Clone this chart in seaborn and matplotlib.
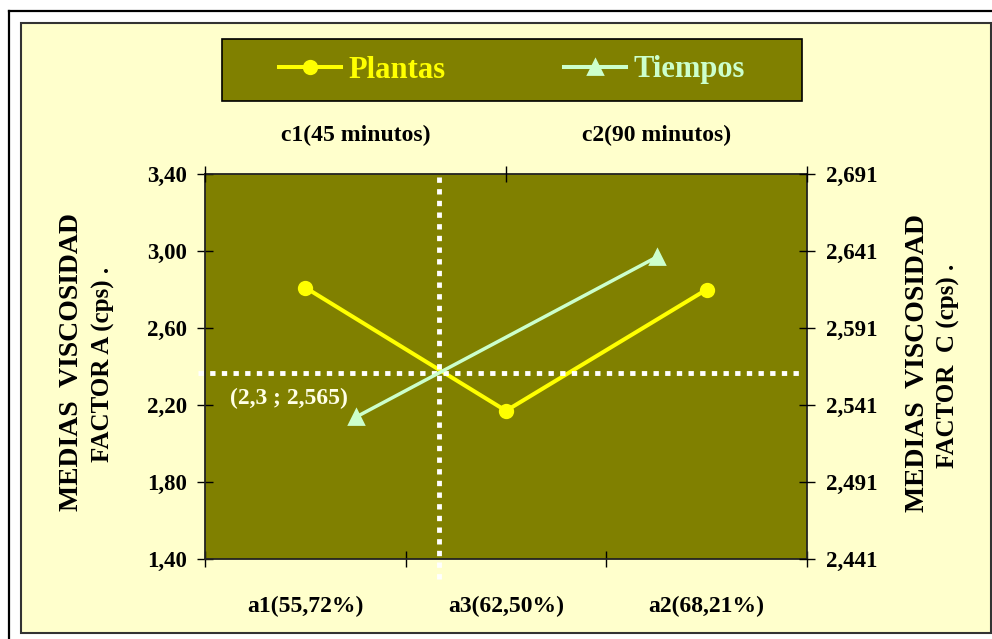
import matplotlib
matplotlib.use("Agg")
import matplotlib.pyplot as plt
import seaborn as sns
from matplotlib.lines import Line2D
from matplotlib.patches import Rectangle
from matplotlib.ticker import FuncFormatter, FixedLocator

# ---------------- data ----------------
plant_labels = ["a1(55,72%)", "a3(62,50%)", "a2(68,21%)"]
plant_values = [2.81, 2.17, 2.80]          # left axis (Factor A)
time_labels = ["c1(45 minutos)", "c2(90 minutos)"]
time_values = [2.533, 2.637]               # right axis (Factor C)
left_ticks = [1.40, 1.80, 2.20, 2.60, 3.00, 3.40]
right_ticks = [2.441, 2.491, 2.541, 2.591, 2.641, 2.691]
series_names = ["Plantas", "Tiempos"]
cross_x = 0.666    # vertical reference line (category units of factor A axis)
cross_y = 2.366    # horizontal reference line (left axis units)
cross_label = "(2,3 ; 2,565)"

# ---------------- style ----------------
FONT = "Liberation Serif"
plt.rcParams["font.family"] = [FONT, "DejaVu Serif"]
plt.rcParams["font.weight"] = "bold"
YELLOW = "#FFFF00"
GREEN = "#CCFFCC"
OLIVE = "#808000"
CREAM = "#FFFFCC"

W, H = 992, 639
fig = plt.figure(figsize=(W / 100, H / 100), dpi=100, facecolor="white")

def fx(px):
    return px / W

def fy(py):
    return 1 - py / H

# outer frame lines
fig.add_artist(Line2D([fx(9), fx(9)], [fy(11), 0], color="black", lw=1.6))
fig.add_artist(Line2D([fx(9), 1], [fy(11), fy(11)], color="black", lw=1.6))
# inner chart area
fig.add_artist(Rectangle((fx(20.7), fy(633)), fx(991) - fx(20.7), fy(23) - fy(633),
                         facecolor=CREAM, edgecolor="#333333", lw=1.5, zorder=0))

# ---------------- axes ----------------
rect = [fx(205), fy(559), fx(807) - fx(205), fy(174) - fy(559)]
ax = fig.add_axes(rect)
ax.set_facecolor(OLIVE)
ax2 = fig.add_axes(rect, frameon=False)
ax2.patch.set_visible(False)

sns.pointplot(x=plant_labels, y=plant_values, ax=ax, color=YELLOW, markers="o",
              errorbar=None, linewidth=2.9, markersize=9, markeredgewidth=2)
sns.pointplot(x=time_labels, y=time_values, ax=ax2, color=GREEN, markers="^",
              errorbar=None, linewidth=2.5, markersize=10, markeredgewidth=2)

ax.set_ylim(left_ticks[0], left_ticks[-1])
ax2.set_ylim(right_ticks[0], right_ticks[-1])
ax.set_xlim(-0.5, len(plant_labels) - 0.5)
ax2.set_xlim(-0.5, len(time_labels) - 0.5)

for a in (ax, ax2):
    a.set_xlabel("")
    a.set_ylabel("")
    a.grid(False)

# left axis
ax.set_yticks(left_ticks)
ax.yaxis.set_major_formatter(FuncFormatter(lambda v, p: f"{v:.2f}".replace(".", ",")))
ax.tick_params(axis="y", direction="inout", length=11.5, width=1, labelsize=16.5, pad=7)
# bottom axis
ax.set_xticks(range(len(plant_labels)))
ax.set_xticklabels(plant_labels)
ax.xaxis.set_minor_locator(FixedLocator([i - 0.5 for i in range(len(plant_labels) + 1)]))
ax.tick_params(axis="x", which="major", length=0, labelsize=17, pad=26.5)
ax.tick_params(axis="x", which="minor", direction="inout", length=12, width=1)

# right axis
ax2.yaxis.tick_right()
ax2.set_yticks(right_ticks)
ax2.yaxis.set_major_formatter(FuncFormatter(lambda v, p: f"{v:.3f}".replace(".", ",")))
ax2.tick_params(axis="y", direction="inout", length=11.5, width=1, labelsize=16.5, pad=8)
# top axis
ax2.xaxis.tick_top()
ax2.set_xticks(range(len(time_labels)))
ax2.set_xticklabels(time_labels)
ax2.xaxis.set_minor_locator(FixedLocator([i - 0.5 for i in range(len(time_labels) + 1)]))
ax2.tick_params(axis="x", which="major", top=True, bottom=False, length=0, labelsize=17, pad=20)
ax2.tick_params(axis="x", which="minor", top=True, bottom=False, direction="inout", length=12, width=1)

for t in ax.get_xticklabels() + ax.get_yticklabels() + ax2.get_xticklabels() + ax2.get_yticklabels():
    t.set_fontweight("bold")
    t.set_fontfamily(FONT)

for s in ax.spines.values():
    s.set_color("#222222")
    s.set_linewidth(1.3)

# reference (dotted) lines
dot = (0, (1.1, 1.3))
ax.axvline(cross_x, ymin=-0.052, ymax=1.0, color="white", lw=3.5, linestyle=dot,
           clip_on=False, zorder=3)
ax.axhline(cross_y, xmin=-0.012, xmax=0.992, color="white", lw=3.5, linestyle=dot,
           clip_on=False, zorder=3)
ax.text(-0.375, 2.236, cross_label, color="#FFFFE6", fontsize=17, fontweight="bold",
        ha="left", va="center", zorder=4)

# axis titles
fig.text(fx(72), fy(362), "MEDIAS  VISCOSIDAD", rotation=90, ha="center", va="center",
         fontsize=20, fontweight="bold")
fig.text(fx(103), fy(364), "FACTOR A (cps) .", rotation=90, ha="center", va="center",
         fontsize=18, fontweight="bold")
fig.text(fx(917), fy(363), "MEDIAS  VISCOSIDAD", rotation=90, ha="center", va="center",
         fontsize=20, fontweight="bold")
fig.text(fx(948), fy(366), "FACTOR  C (cps) .", rotation=90, ha="center", va="center",
         fontsize=18, fontweight="bold")

# legend box
fig.add_artist(Rectangle((fx(222), fy(101)), fx(802) - fx(222), fy(39) - fy(101),
                         facecolor=OLIVE, edgecolor="black", lw=1.2, zorder=1))
handles = [
    Line2D([], [], color=YELLOW, marker="o", lw=2.9, markersize=9, markeredgewidth=2),
    Line2D([], [], color=GREEN, marker="^", lw=2.9, markersize=10, markeredgewidth=2),
]
leg = fig.legend(handles, series_names, loc="center", bbox_to_anchor=(fx(512), fy(70)),
                 frameon=False, ncol=2, handlelength=2.0, handletextpad=0.25,
                 columnspacing=3.9, prop={"family": FONT, "weight": "bold", "size": 22})
leg.set_zorder(2)
for txt, c in zip(leg.get_texts(), [YELLOW, GREEN]):
    txt.set_color(c)

fig.savefig("out.png", dpi=100, facecolor="white")
